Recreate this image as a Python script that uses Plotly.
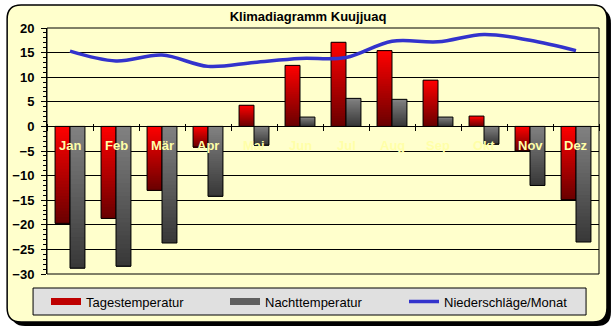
import plotly.graph_objects as go

# Monthly climate values for Kuujjuaq
months = ["Jan", "Feb", "Mär", "Apr", "Mai", "Jun", "Jul", "Aug", "Sep", "Okt", "Nov", "Dez"]
day_temp = [-19.7, -18.7, -13.0, -4.2, 4.3, 12.4, 17.1, 15.4, 9.4, 2.1, -5.0, -14.9]
night_temp = [-28.8, -28.4, -23.7, -14.2, -3.8, 1.9, 5.7, 5.5, 1.9, -3.6, -12.0, -23.5]
precip = [15.3, 13.3, 14.5, 12.2, 13.0, 13.8, 14.0, 17.3, 17.2, 18.7, 17.5, 15.4]

Y_MIN, Y_MAX = -30, 20

# page geometry (pixels)
W, H = 616, 330
L, R, T, B = 45, 17, 28, 56
PW, PH = W - L - R, H - T - B


def px(x):
    return (x - L) / PW


def py(y):
    return (H - B - y) / PH


def rounded_rect(x0, y0, x1, y1, r):
    return (
        f"M {px(x0 + r)},{py(y0)} L {px(x1 - r)},{py(y0)} "
        f"Q {px(x1)},{py(y0)} {px(x1)},{py(y0 + r)} "
        f"L {px(x1)},{py(y1 - r)} Q {px(x1)},{py(y1)} {px(x1 - r)},{py(y1)} "
        f"L {px(x0 + r)},{py(y1)} Q {px(x0)},{py(y1)} {px(x0)},{py(y1 - r)} "
        f"L {px(x0)},{py(y0 + r)} Q {px(x0)},{py(y0)} {px(x0 + r)},{py(y0)} Z"
    )


def blend(c_top, c_bot, t):
    return "rgb({},{},{})".format(*[round(a + (b - a) * t) for a, b in zip(c_top, c_bot)])


BAR_W = 0.325
N_STEPS = 32
FONT = "Liberation Sans, Arial, sans-serif"
LABEL_COLOR = "#FFFFA8"


def gradient_bars(values, c_top, c_bot, offset):
    """Bars filled with a vertical gradient: light at the top, dark at the bottom."""
    traces = []
    for k in range(N_STEPS):
        frac = k / N_STEPS
        base = [v * frac for v in values]
        length = [v - b for v, b in zip(values, base)]
        colors = []
        for v in values:
            f = (k + 0.5) / N_STEPS
            t = 1 - f if v >= 0 else f
            colors.append(blend(c_top, c_bot, t))
        traces.append(go.Bar(
            x=months, y=length, base=base, offset=offset, width=BAR_W,
            marker=dict(color=colors, line=dict(width=0)),
            showlegend=False, hoverinfo="skip",
        ))
    traces.append(go.Bar(
        x=months, y=values, offset=offset, width=BAR_W,
        marker=dict(color="rgba(0,0,0,0)", line=dict(color="black", width=1)),
        showlegend=False, hoverinfo="skip",
    ))
    return traces


fig = go.Figure()
for tr in gradient_bars(day_temp, (255, 0, 0), (105, 0, 0), -BAR_W):
    fig.add_trace(tr)
for tr in gradient_bars(night_temp, (130, 130, 130), (55, 55, 55), 0):
    fig.add_trace(tr)

# legend entries for the two bar series
fig.add_trace(go.Scatter(x=[None], y=[None], mode="lines", name="Tagestemperatur",
                         line=dict(color="rgb(190,0,0)", width=7)))
fig.add_trace(go.Scatter(x=[None], y=[None], mode="lines", name="Nachttemperatur",
                         line=dict(color="rgb(95,95,95)", width=7)))

fig.add_trace(go.Scatter(
    x=months, y=precip, mode="lines", name="Niederschläge/Monat",
    line=dict(color="rgb(51,51,204)", width=3.5, shape="spline", smoothing=1),
    hoverinfo="skip",
))

zero_pos = (0 - Y_MIN) / (Y_MAX - Y_MIN)

shapes = [
    # outer frame with drop shadow
    dict(type="path", path=rounded_rect(9, 9, 611, 326, 14), xref="paper", yref="paper",
         fillcolor="black", line=dict(width=0), layer="below"),
    dict(type="path", path=rounded_rect(5, 5, 607, 322, 14), xref="paper", yref="paper",
         fillcolor="#FFFFCC", line=dict(color="black", width=1.5), layer="below"),
    # legend box
    dict(type="rect", x0=px(31), x1=px(586), y0=py(288), y1=py(315), xref="paper", yref="paper",
         fillcolor="#E0E0E0", line=dict(color="black", width=1), layer="below"),
    # plot area border
    dict(type="rect", x0=0, x1=1, y0=0, y1=1, xref="paper", yref="paper",
         line=dict(color="black", width=1), layer="above"),
]

# month names sit just below the zero line, on top of the bars
month_labels = [
    dict(x=m, y=py(145.5), xref="x", yref="paper", text=f"<b>{m}</b>", showarrow=False,
         xanchor="center", yanchor="middle",
         font=dict(family=FONT, size=13, color=LABEL_COLOR))
    for m in months
]

fig.update_layout(
    width=W, height=H,
    margin=dict(l=L, r=R, t=T, b=B, pad=0),
    paper_bgcolor="white",
    plot_bgcolor="#C0C0C0",
    barmode="overlay",
    showlegend=True,
    shapes=shapes,
    annotations=month_labels,
    font=dict(family=FONT, size=13, color="black"),
    title=dict(text="<b>Klimadiagramm Kuujjuaq</b>", x=0.5, xref="container", xanchor="center",
               y=1 - 16 / H, yref="container", yanchor="middle",
               font=dict(family=FONT, size=13, color="black")),
    legend=dict(orientation="h", x=px(44), y=py(301.5), xanchor="left", yanchor="middle",
                bgcolor="rgba(0,0,0,0)", borderwidth=0, entrywidth=134,
                font=dict(family=FONT, size=13, color="black"), traceorder="normal"),
    xaxis=dict(
        type="category", categoryorder="array", categoryarray=months,
        range=[-0.5, 11.5], anchor="free", position=zero_pos + 3 / PH,
        showline=False, showgrid=False, zeroline=False, showticklabels=False,
        ticks="outside", ticklen=7, tickcolor="black", tickwidth=1, tickson="boundaries",
        fixedrange=True,
    ),
    yaxis=dict(
        range=[Y_MIN, Y_MAX], tick0=0, dtick=5,
        showgrid=True, gridcolor="black", gridwidth=1,
        zeroline=True, zerolinecolor="black", zerolinewidth=1,
        showline=True, linecolor="black", linewidth=1,
        ticks="outside", ticklen=5, tickcolor="black",
        minor=dict(dtick=1, ticks="outside", ticklen=3, tickcolor="black", showgrid=False),
        ticklabelstandoff=4,
        tickfont=dict(family=FONT, size=13, color="black", weight="bold"),
        fixedrange=True,
    ),
)

fig.write_html("out.html")
